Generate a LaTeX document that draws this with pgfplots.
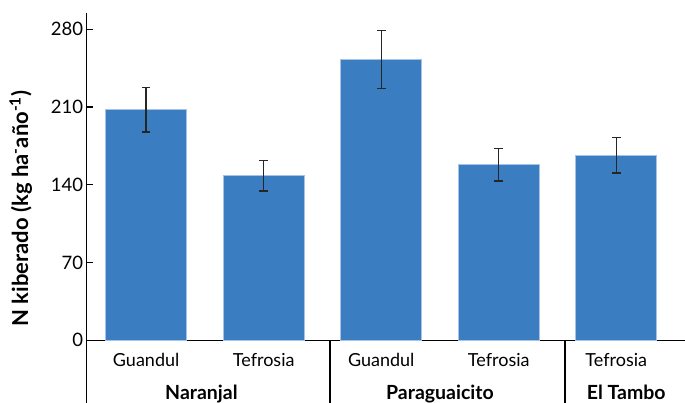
\documentclass[border=0pt]{standalone}
\usepackage{pgfplots}
\pgfplotsset{compat=1.18}
\usepackage{fontspec}
\setmainfont{Lato}
\definecolor{barblue}{RGB}{58,125,193}
\definecolor{baredge}{RGB}{165,195,232}
\begin{document}
\begin{tikzpicture}
\path[use as bounding box] (0pt,0pt) rectangle (685pt,402pt);
\begin{axis}[
  at={(86.7pt,61.7pt)}, anchor=south west,
  scale only axis, width=598.3pt, height=327pt,
  xmin=-0.506, xmax=4.585, ymin=0, ymax=294.4,
  axis lines*=left,
  axis line style={line width=1.2pt, black},
  clip=false,
  ytick={0,70,140,210,280},
  xtick={0,1,2,3,4},
  xticklabels={Guandul,Tefrosia,Guandul,Tefrosia,Tefrosia},
  x tick style={draw=none},
  y tick style={line width=1.2pt, black},
  tick align=inside, major tick length=6.6pt,
  /pgf/number format/assume math mode=true,
  yticklabel style={font=\fontsize{18.5}{22}\selectfont, anchor=east, xshift=0pt},
  xticklabel style={font=\fontsize{18}{22}\selectfont, anchor=base, yshift=-26pt},
  ylabel={N kiberado (kg ha\textsuperscript{-}año\textsuperscript{-1})},
  ylabel style={font=\bfseries\fontsize{22}{24}\selectfont, at={(axis description cs:-0.11,0.403)}, anchor=center},
]
\addplot[ybar, bar width=81pt, fill=barblue, draw=baredge, line width=0.8pt,
  error bars/.cd, y dir=both, y explicit,
  error bar style={line width=1.4pt, black!85},
  error mark options={rotate=90, black!85, line width=1.4pt, mark size=4.3pt}]
  coordinates {
  (0,207.6) +- (0,20.0)
  (1,148.1) +- (0,13.7)
  (2,252.7) +- (0,26.2)
  (3,158.0) +- (0,14.7)
  (4,166.6) +- (0,16.0)
  };
\draw[line width=1.2pt] (axis cs:-0.506,0) -- ([yshift=-70pt]axis cs:-0.506,0);
\draw[line width=1.2pt] (axis cs:1.564,0) -- ([yshift=-70pt]axis cs:1.564,0);
\draw[line width=1.2pt] (axis cs:3.564,0) -- ([yshift=-70pt]axis cs:3.564,0);
\node[font=\bfseries\fontsize{19.5}{22}\selectfont, anchor=base] at ([yshift=-59pt]axis cs:0.47,0) {Naranjal};
\node[font=\bfseries\fontsize{19.5}{22}\selectfont, anchor=base] at ([yshift=-59pt]axis cs:2.5,0) {Paraguaicito};
\node[font=\bfseries\fontsize{19.5}{22}\selectfont, anchor=base] at ([yshift=-59pt]axis cs:4.085,0) {El Tambo};
\end{axis}
\end{tikzpicture}
\end{document}
